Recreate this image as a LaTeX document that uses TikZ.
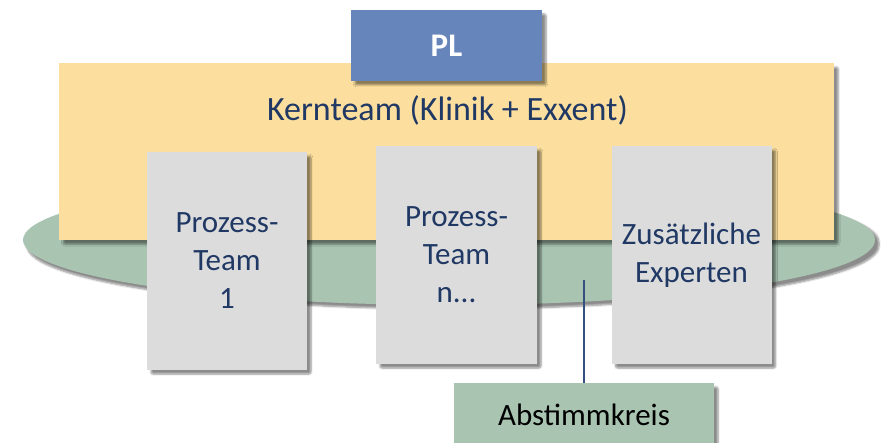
\documentclass[tikz,border=0pt]{standalone}
\usepackage{fontspec}
\setmainfont{Carlito}
\usetikzlibrary{shapes.geometric,shadows.blur}
\definecolor{kernc}{HTML}{FCDF9E}
\definecolor{plc}{HTML}{6685BB}
\definecolor{grayc}{HTML}{DCDCDC}
\definecolor{greenc}{HTML}{A9C5B2}
\definecolor{navy}{HTML}{203864}
\definecolor{linec}{HTML}{34507E}
\tikzset{
  shd/.style={blur shadow={shadow xshift=4pt, shadow yshift=-4pt, shadow blur steps=6, shadow blur extra rounding=2pt, shadow opacity=45}},
  panel/.style={rectangle, inner sep=0pt, draw=none, shd},
  teamtxt/.style={font=\fontsize{31}{38}\selectfont, text=navy, align=center},
}
\begin{document}
\begin{tikzpicture}[x=1pt, y=-1pt]
\useasboundingbox (0,0) rectangle (881,443);
\clip (0,0) rectangle (881,443);
% Abstimmkreis ellipse
\node[ellipse, fill=greenc, draw=none, minimum width=852, minimum height=130, inner sep=0pt, shd] (ring) at (449,240) {};
% Kernteam
\node[panel, fill=kernc, minimum width=775, minimum height=177, anchor=north west] (kern) at (59,63) {};
\node[font=\fontsize{34}{40}\selectfont, text=navy, anchor=base] (kernlabel) at (447.5,121) {Kernteam (Klinik + Exxent)};
% PL
\node[panel, fill=plc, minimum width=191, minimum height=71, font=\fontsize{33}{40}\selectfont\bfseries, text=white] (pl) at (446.5,45.5) {PL};
% team boxes
\node[panel, fill=grayc, minimum width=160, minimum height=218, teamtxt] (t1) at (227,261) {Prozess-\\Team\\1};
\node[panel, fill=grayc, minimum width=161, minimum height=218, teamtxt] (tn) at (456.5,255) {Prozess-\\Team\\n...};
\node[panel, fill=grayc, minimum width=160, minimum height=218, teamtxt] (ex) at (691.5,255) {Zusätzliche\\Experten};
% Abstimmkreis label
\node[panel, fill=greenc, minimum width=260, minimum height=64, font=\fontsize{31}{38}\selectfont, text=black] (abst) at (584,415) {Abstimmkreis};
\coordinate (ringpt) at (584,280);
\draw[linec, line width=1.4pt] (ringpt) -- (abst.north);
\end{tikzpicture}
\end{document}
